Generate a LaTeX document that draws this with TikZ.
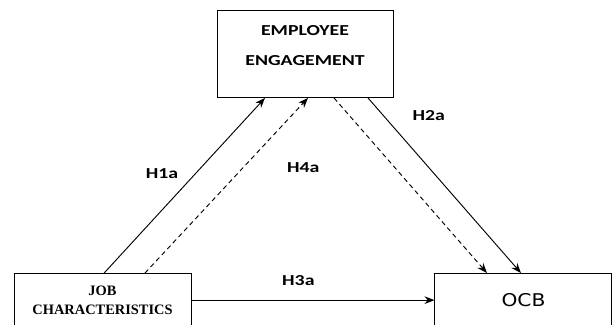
\documentclass[tikz,border=0pt]{standalone}
\usepackage{fontspec}
\usepackage{graphicx}
\setmainfont{Liberation Serif}
\newfontfamily\calibri{Carlito}
\newfontfamily\vera{DejaVu Sans}
\usetikzlibrary{positioning,arrows.meta,quotes}
\newcommand\wide[2][1.3]{\scalebox{#1}[1]{#2}}

\begin{document}
\begin{tikzpicture}[
    box/.style={draw, line width=0.8pt, align=center, inner sep=0pt},
    conn/.style={line width=0.8pt, -{Stealth[length=8.5pt,width=6.5pt]}},
    dsh/.style={dash pattern=on 4pt off 3pt},
    every edge quotes/.style={font=\calibri\bfseries\fontsize{13}{15}\selectfont},
]
\useasboundingbox (0,0) rectangle (18.42,9.72);
\clip (0,0) rectangle (18.42,9.72);
% the three constructs
\node[box, anchor=north, minimum width=5.28cm, text height=1.65cm, text depth=0.96cm,
    font=\calibri\bfseries\fontsize{13}{25.6}\selectfont] (ee) at (9.15,9.42)
    {\wide{EMPLOYEE}\\\wide{ENGAGEMENT}};
\node[box, anchor=north, minimum width=5.31cm, minimum height=1.6cm,
    font=\bfseries\fontsize{12.3}{16.2}\selectfont] (jc) at (3.075,1.53)
    {JOB\\CHARACTERISTICS};
\node[box, right=7.29cm of jc, minimum width=5.31cm, minimum height=1.6cm,
    font=\vera\fontsize{15}{18}\selectfont] (ocb) {\wide[1.15]{OCB}};
% hypotheses
\path[every edge/.append style={conn}]
  ([xshift=0.05cm]jc.north) edge["\wide{H1a}" {pos=0.57, left=0.4cm}] ([xshift=-1.2cm]ee.south)
  ([xshift=1.275cm]jc.north) edge[dsh, "\wide{H4a}" {pos=0.6, right=1.2cm}] ([xshift=0.09cm]ee.south)
  ([xshift=0.87cm]ee.south) edge[dsh] ([xshift=-1.095cm]ocb.north)
  ([xshift=1.89cm]ee.south) edge["\wide{H2a}" {pos=0.1, right=0.75cm}] ([xshift=-0.075cm]ocb.north)
  (jc) edge["\wide{H3a}" {pos=0.44, above=0.3cm}] (ocb);
\end{tikzpicture}
\end{document}
